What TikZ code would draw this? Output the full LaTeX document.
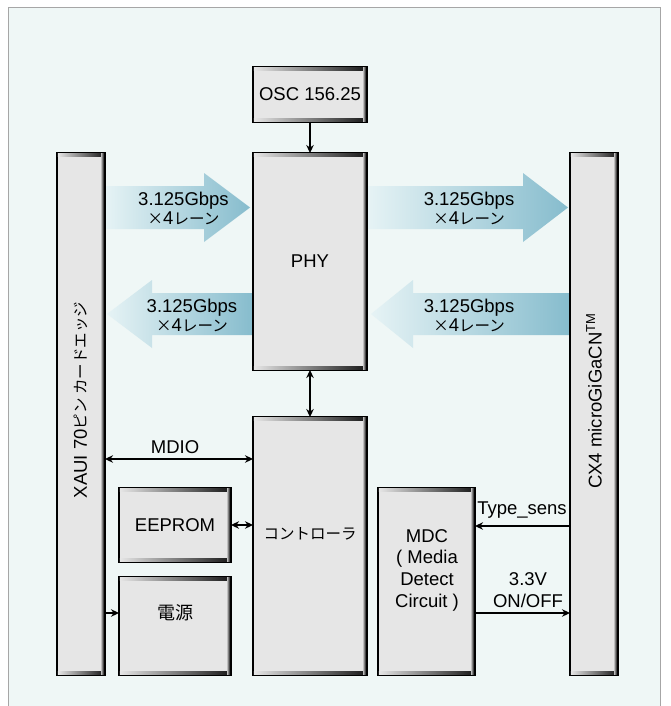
\documentclass[tikz,border=0pt]{standalone}
\usepackage{fontspec}
\setmainfont{Liberation Sans}
\newfontfamily\jpfam{Noto Sans CJK JP}
\usetikzlibrary{arrows.meta}
\definecolor{bgc}{RGB}{239,247,246}
\definecolor{boxc}{RGB}{230,230,230}
\definecolor{arrc}{RGB}{134,188,205}
\definecolor{arrl}{RGB}{230,243,245}
\newcommand\jp[1]{{\jpfam\fontsize{15.5}{19.5}\selectfont #1}}
\newcommand\fsz{\fontsize{18.5}{21.5}\selectfont}
\newcommand\bev[1]{%
 \shade[left color=boxc, right color=black!90] ([shift={(0.8,0.8)}]#1.north west) rectangle ([shift={(-0.8,3.5)}]#1.north east);
 \shade[left color=boxc, right color=black!90] ([shift={(0.8,-3.5)}]#1.south west) rectangle ([shift={(-0.8,-0.8)}]#1.south east);
 \shade[left color=gray!60, right color=black] ([shift={(-3.8,0.8)}]#1.north east) rectangle ([shift={(-0.8,-0.8)}]#1.south east);
}
\tikzset{
 blk/.style={draw=black, line width=1.6pt, fill=boxc, rectangle, inner sep=0pt, outer sep=0pt, font=\fsz, align=center},
 lab/.style={font=\fsz, align=center, inner sep=0pt},
 arrlab/.style={font=\fontsize{18.5}{19.5}\selectfont, align=center, inner sep=0pt},
 conn/.style={line width=1.6pt, -{Stealth[length=8pt,width=7.5pt]}},
 dconn/.style={line width=1.6pt, {Stealth[length=8pt,width=7.5pt]}-{Stealth[length=8pt,width=7.5pt]}},
 bigarr/.style={left color=arrl, right color=arrc},
}
\begin{document}
\begin{tikzpicture}[x=1pt,y=-1pt]
\useasboundingbox (0,0) rectangle (671,706);
\fill[white] (0,0) rectangle (671,706);
\draw[fill=bgc, draw=gray!70, line width=0.8pt] (8,7) rectangle (660,730);

% big gradient arrows
\shade[bigarr] (105,186) -- (204,186) -- (204,173) -- (250,207.5) -- (204,242) -- (204,229) -- (105,229) -- cycle;
\shade[bigarr] (367,186) -- (523,186) -- (523,173) -- (568,207.5) -- (523,242) -- (523,229) -- (367,229) -- cycle;
\shade[bigarr] (253,293) -- (152,293) -- (152,280) -- (107,314) -- (152,348) -- (152,335) -- (253,335) -- cycle;
\shade[bigarr] (570,293) -- (413,293) -- (413,280) -- (371,314) -- (413,348) -- (413,335) -- (570,335) -- cycle;

\node[arrlab] (g1) at (183.5,208.5) {3.125Gbps\\\jp{×}4\jp{レーン}};
\node[arrlab] (g2) at (469,208.5) {3.125Gbps\\\jp{×}4\jp{レーン}};
\node[arrlab] (g3) at (192,315.5) {3.125Gbps\\\jp{×}4\jp{レーン}};
\node[arrlab] (g4) at (469,315.5) {3.125Gbps\\\jp{×}4\jp{レーン}};

% boxes
\node[blk, minimum width=114pt, minimum height=55pt] (osc) at (310,94.5) {OSC 156.25};
\node[blk, minimum width=114pt, minimum height=217pt] (phy) at (310,261.5) {PHY};
\node[blk, minimum width=114pt, minimum height=258pt] (ctrl) at (310,546) {};
\node[blk, minimum width=48pt, minimum height=522pt] (xaui) at (81,414) {};
\node[blk, minimum width=48pt, minimum height=522pt] (cx4) at (594,414) {};
\node[blk, minimum width=112pt, minimum height=74pt] (eeprom) at (175,525) {EEPROM};
\node[blk, minimum width=112pt, minimum height=98pt] (pwr) at (175,626) {};
\node[blk, minimum width=97pt, minimum height=187pt] (mdc) at (426.5,581.5) {};
\foreach \b in {osc,phy,ctrl,xaui,cx4,eeprom,pwr,mdc} {\bev{\b}}

\node[lab] (ctrltxt) at (310,534) {\jp{コントローラ}};
\node[lab] (pwrtxt) at (175,613) {\jp{\fontsize{18}{20}\selectfont 電源}};
\node[lab, font=\fontsize{18.5}{21.7}\selectfont] (mdctxt) at (427,570) {MDC\\( Media\\Detect\\Circuit )};
\node[lab, rotate=90] (xauitxt) at (81,400) {XAUI 70\jp{ピン カードエッジ}};
\node[lab, rotate=90] (cx4txt) at (594,401) {CX4 microGiGaCN\textsuperscript{TM}};

% connectors
\coordinate (yMDIO) at (0,459);
\coordinate (yT) at (0,526);
\coordinate (yV) at (0,613);
\draw[conn] (osc.south) -- (phy.north);
\draw[dconn] (phy.south) -- (ctrl.north);
\draw[dconn] (xaui.east |- yMDIO) -- (ctrl.west |- yMDIO);
\draw[dconn] (eeprom.east) -- (ctrl.west |- eeprom.east);
\draw[conn] (xaui.east |- yV) -- (pwr.west |- yV);
\draw[conn] (cx4.west |- yT) -- (mdc.east |- yT);
\draw[conn] (mdc.east |- yV) -- (cx4.west |- yV);

\node[lab] (mdiol) at (175,447) {MDIO};
\node[lab] (typel) at (522,510) {Type\_sens};
\node[lab] (vl) at (528,590) {3.3V\\ON/OFF};
\end{tikzpicture}
\end{document}
